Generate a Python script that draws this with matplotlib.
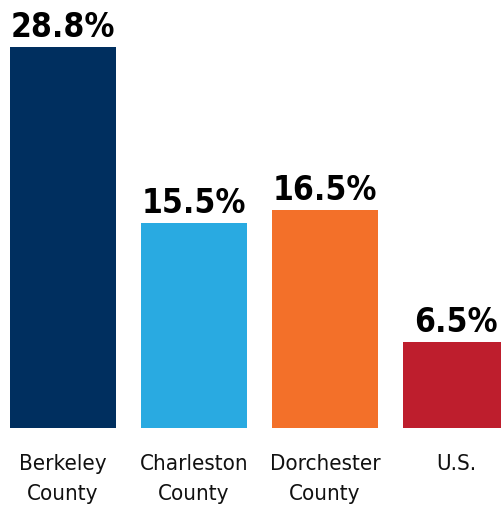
"""Bar chart of growth by county."""

import matplotlib
matplotlib.use("Agg")
import matplotlib.pyplot as plt

categories = ["Berkeley\nCounty", "Charleston\nCounty", "Dorchester\nCounty", "U.S."]
values = [28.8, 15.5, 16.5, 6.5]
colors = ["#002F5F", "#29AAE1", "#F37029", "#BE1E2D"]

plt.rcParams["font.family"] = ["DejaVu Sans"]
plt.rcParams["font.stretch"] = "condensed"

fig = plt.figure(figsize=(5.02, 5.11), dpi=100)
ax = fig.add_axes([0, 83 / 511, 1, 428 / 511])

positions = range(len(values))
ax.bar(positions, values, width=0.81, color=colors)

for pos, value, label in zip(positions, values, categories):
    ax.annotate(
        f"{value:.1f}%",
        xy=(pos, value),
        xytext=(0, 2),
        textcoords="offset points",
        ha="center",
        va="bottom",
        fontsize=24,
        fontweight="bold",
        color="black",
    )
    ax.annotate(
        label,
        xy=(pos, 0),
        xytext=(0, -19),
        textcoords="offset points",
        ha="center",
        va="top",
        fontsize=16,
        linespacing=1.6,
        color="#111111",
    )

ax.set_xlim(-63 / 131, (502 - 63) / 131)
ax.set_ylim(0, 428 / (381 / 28.8))
ax.axis("off")

plt.savefig("out.png", dpi=100)
plt.close()
